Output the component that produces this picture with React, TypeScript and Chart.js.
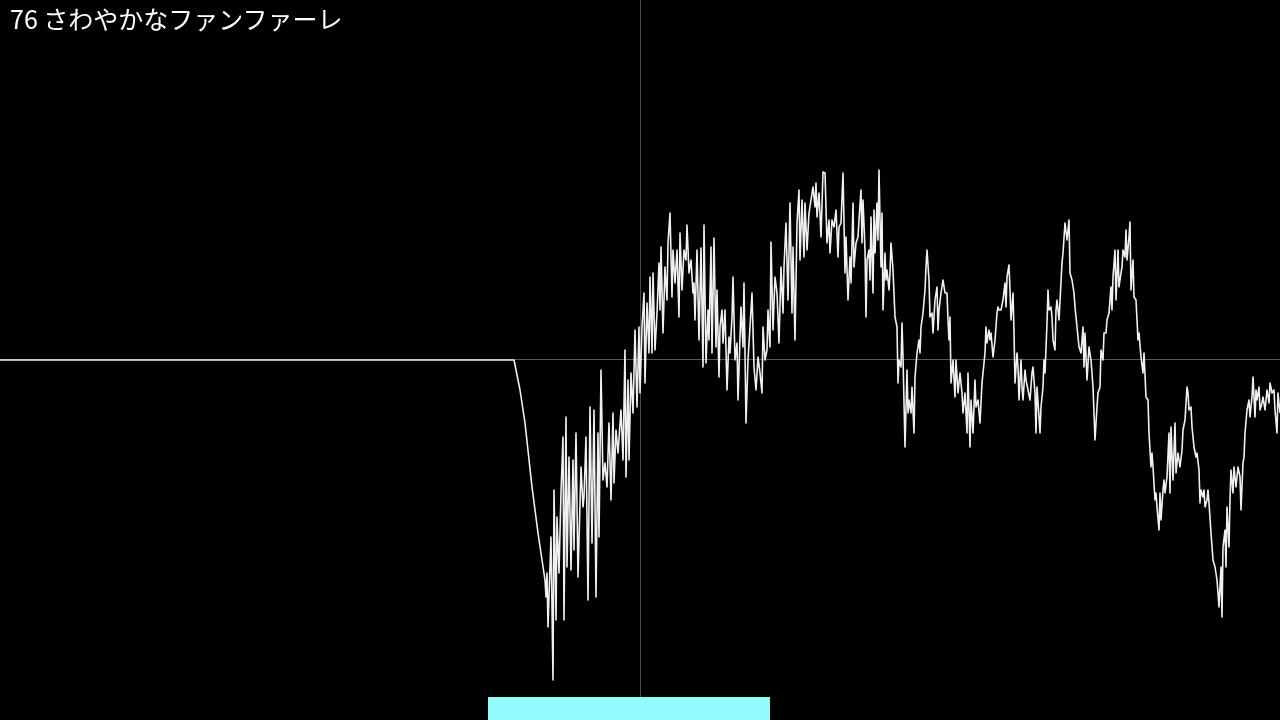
import React, { useEffect, useRef } from "react";
import { Chart, registerables } from "chart.js";

Chart.register(...registerables);

// ---- data (time in samples, level = signed amplitude, full scale ±360) ----
const titleText = "76 さわやかなファンファーレ";
const timeRange = [0, 1280];
const levelRange = [-360, 360];
const cursorTime = 640;
const windowStart = 488;
const windowEnd = 770;
const windowLevel = -337;

const onset: [number, number][] = [
  [0, 0], [514, 0], [520, -30], [525, -63], [532, -127], [538, -173], [545, -220], [546, -237], [547, -213], [548, -267],
  [551, -177], [553, -320], [554, -130], [556, -260], [557, -157], [559, -213], [561, -133], [563, -77], [564, -260], [566, -57],
  [567, -207], [569, -97], [571, -210], [573, -100], [574, -190], [576, -73], [578, -217], [581, -107], [583, -147], [584, -137],
  [586, -77], [588, -240], [590, -47], [592, -183], [594, -50], [596, -237], [598, -73], [599, -177], [601, -10], [603, -120],
  [605, -103], [607, -127], [609, -63], [611, -140], [613, -53], [614, -123], [616, -70], [618, -93],
];

const rise: [number, number][] = [
  [621, -50], [623, -100], [625, 10], [626, -117], [628, -20], [629, -100], [631, -13], [633, -53], [635, 30], [637, -47],
  [639, 33], [640, -33], [642, 33], [644, 67], [645, -23], [647, 57], [649, 7], [650, 83], [652, 7], [653, 87],
  [655, 10], [657, 47], [659, 97], [660, 50], [661, 113], [663, 27], [665, 93], [667, 60], [668, 117], [670, 147],
  [672, 63], [673, 110], [675, 77], [677, 110], [679, 43], [680, 127], [682, 70], [684, 110], [686, 100], [687, 135],
  [689, 87], [691, 100], [693, 67], [694, 77], [695, 40], [697, 110], [699, 20], [701, 112], [703, -7], [704, 135],
  [706, -3], [708, 50], [709, 20], [711, 113], [712, 7], [714, 122], [716, 13], [717, 70], [719, -17], [720, 33],
  [722, 50], [723, 17], [725, 50], [727, -30], [729, 23],
];

const crest: [number, number][] = [
  [730, 7], [732, 43], [733, 83], [735, 0], [737, 17], [738, -40], [741, 53], [743, 13], [744, 77], [746, -63],
  [748, 0], [750, 33], [752, 67], [754, -7], [756, -30], [758, 3], [760, -13], [762, -33], [763, 33], [765, 0],
  [767, 10], [768, 50], [770, 13], [771, 118], [773, 30], [775, 83], [777, 67], [779, 17], [781, 93], [783, 47],
  [784, 93], [786, 137], [788, 60], [790, 157], [792, 47], [793, 113], [795, 20], [797, 137], [799, 170], [800, 100],
  [802, 160], [804, 103], [805, 157], [807, 110], [809, 147], [811, 160], [813, 173], [815, 153], [816, 177], [817, 143],
  [819, 167], [821, 123], [823, 188], [825, 187], [827, 117], [829, 140], [830, 107], [832, 140], [834, 133], [836, 150],
  [838, 103], [839, 133],
];

const peak: [number, number][] = [
  [841, 137], [843, 187], [845, 87], [846, 123], [848, 60], [850, 103], [851, 77], [853, 157], [854, 93], [856, 117],
  [858, 123], [859, 140], [861, 170], [862, 117], [863, 160], [865, 110], [866, 43], [867, 100], [869, 110], [870, 80],
  [871, 143], [873, 67], [874, 150], [875, 107], [877, 157], [878, 120], [879, 190], [881, 93], [882, 147], [883, 50],
  [885, 107], [886, 80], [887, 90], [889, 70], [890, 87], [891, 117], [893, 90], [895, 43], [897, 33], [898, -23],
  [899, 0], [901, -7], [902, 37], [903, 3], [905, -87], [907, -10], [908, -53], [909, -40], [911, -53], [912, -27],
  [914, -73], [915, -17], [917, 7], [919, 20], [920, 7], [921, 33], [923, 47], [925, 70], [926, 93], [927, 110],
  [929, 80], [930, 43], [932, 47], [933, 27], [935, 60], [937, 73], [938, 30], [939, 50], [941, 67], [943, 80],
  [945, 67], [947, 67], [948, 40], [949, 20],
];

const ripple: [number, number][] = [
  [950, 43], [951, -23], [953, 0], [955, -37], [956, 0], [958, -33], [960, -13], [962, -33], [963, -53], [965, -33],
  [967, -73], [968, -13], [970, -87], [971, -40], [973, -73], [975, -20], [976, -47], [978, -40], [980, -63], [982, -23],
  [983, -13], [985, 7], [986, 33], [987, 17], [989, 30], [990, 20], [991, 27], [993, 3], [995, 20], [997, 47],
  [998, 53], [999, 50], [1001, 50], [1003, 60], [1005, 77], [1006, 53], [1007, 83], [1009, 95], [1010, 70], [1011, 40],
  [1013, 67], [1014, 27], [1015, -23], [1017, 7], [1018, -7], [1019, -40], [1021, 0], [1022, -27], [1023, -40], [1025, -10],
  [1026, -20], [1028, -30], [1030, -40], [1032, -13], [1033, -7], [1035, -33], [1036, -73], [1037, -27], [1039, -57], [1040, -73],
  [1041, -47], [1043, -27], [1044, 0], [1045, -13], [1047, 37], [1048, 70], [1049, 50], [1051, 53], [1052, 43], [1053, 20],
  [1055, 10], [1056, 50], [1057, 60], [1059, 40],
];

const swell: [number, number][] = [
  [1062, 97], [1063, 107], [1065, 137], [1067, 120], [1069, 140], [1070, 87], [1072, 80], [1074, 67], [1075, 53], [1077, 33],
  [1079, 13], [1081, 7], [1083, 33], [1084, -7], [1085, 27], [1087, -20], [1089, 13], [1091, 0], [1093, -27], [1095, -80],
  [1097, -47], [1098, -33], [1100, -27], [1101, 10], [1103, 0], [1104, 27], [1106, 27], [1107, 40], [1109, 47], [1111, 73],
  [1112, 50], [1113, 83], [1115, 110], [1116, 60], [1118, 110], [1119, 73], [1121, 87], [1122, 93], [1123, 110], [1125, 103],
  [1126, 130], [1127, 100], [1129, 123], [1130, 138], [1131, 70], [1133, 100], [1134, 63], [1136, 60], [1138, 20], [1139, 27],
  [1141, 3], [1143, -13], [1144, 7], [1146, -37], [1148, -40], [1149, -73], [1151, -107], [1152, -93], [1153, -107], [1155, -140],
  [1156, -133], [1157, -147], [1159, -170], [1160, -133], [1161, -160], [1163, -130], [1164, -120], [1165, -133], [1167, -117], [1169, -73],
];

const tail: [number, number][] = [
  [1170, -133], [1171, -67], [1173, -120], [1175, -63], [1176, -113], [1178, -93], [1180, -107], [1182, -90], [1183, -70], [1185, -60],
  [1187, -27], [1188, -33], [1189, -50], [1191, -47], [1192, -67], [1194, -87], [1196, -97], [1197, -93], [1199, -110], [1200, -143],
  [1201, -130], [1203, -137], [1204, -130], [1205, -147], [1207, -140], [1208, -130], [1209, -143], [1211, -173], [1213, -200], [1215, -207],
  [1217, -220], [1218, -233], [1219, -247], [1221, -207], [1222, -257], [1223, -187], [1225, -170], [1226, -207], [1227, -147], [1229, -187],
  [1230, -140], [1231, -110], [1233, -133], [1234, -107], [1236, -127], [1238, -107], [1240, -117], [1241, -150], [1243, -103], [1244, -97],
  [1245, -73], [1247, -50], [1249, -40], [1250, -57], [1252, -37], [1253, -17], [1255, -57], [1256, -30], [1257, -40], [1259, -27],
  [1260, -50], [1262, -43], [1263, -37], [1265, -50], [1267, -30], [1269, -43], [1270, -23], [1272, -33], [1274, -30], [1275, -50],
  [1277, -73], [1278, -33], [1280, -53],
];

const segments = [onset, rise, crest, peak, ripple, swell, tail];

const guidesPlugin = {
  id: "guides",
  beforeDatasetsDraw(chart: any) {
    const { ctx, chartArea, scales } = chart;
    const x = scales.x;
    const y = scales.y;
    ctx.save();
    ctx.lineWidth = 1;
    ctx.strokeStyle = "#4a4a4a";
    const px = Math.round(x.getPixelForValue(cursorTime)) + 0.5;
    ctx.beginPath();
    ctx.moveTo(px, chartArea.top);
    ctx.lineTo(px, chartArea.bottom);
    ctx.stroke();
    ctx.strokeStyle = "#575757";
    const py = Math.round(y.getPixelForValue(0)) - 0.5;
    ctx.beginPath();
    ctx.moveTo(x.getPixelForValue(timeRange[0]), py);
    ctx.lineTo(x.getPixelForValue(timeRange[1]), py);
    ctx.stroke();
    ctx.restore();
  },
  afterDatasetsDraw(chart: any) {
    const { ctx, chartArea, scales } = chart;
    const x = scales.x;
    const y = scales.y;
    const x0 = x.getPixelForValue(windowStart);
    const x1 = x.getPixelForValue(windowEnd);
    const y0 = y.getPixelForValue(windowLevel);
    ctx.save();
    ctx.fillStyle = "#93fbfb";
    ctx.fillRect(x0, y0, x1 - x0, chartArea.bottom - y0);
    ctx.restore();
  },
};

export default function App() {
  const canvasRef = useRef<HTMLCanvasElement | null>(null);

  useEffect(() => {
    document.body.style.margin = "0";
    document.body.style.background = "#000";
    const canvas = canvasRef.current;
    if (!canvas) return;
    const points = segments.flat().map(([t, v]) => ({ x: t, y: v }));
    const chart = new Chart(canvas, {
      type: "line",
      data: {
        datasets: [
          {
            data: points,
            borderColor: "#f0f0f0",
            borderWidth: 1.6,
            pointRadius: 0,
            tension: 0,
            fill: false,
            borderJoinStyle: "round",
          } as any,
        ],
      },
      options: {
        responsive: false,
        animation: false,
        events: [],
        layout: { padding: 0 },
        plugins: {
          legend: { display: false },
          tooltip: { enabled: false },
          title: { display: false },
        },
        scales: {
          x: { type: "linear", min: timeRange[0], max: timeRange[1], display: false },
          y: { type: "linear", min: levelRange[0], max: levelRange[1], display: false },
        },
      },
      plugins: [guidesPlugin],
    });
    return () => chart.destroy();
  }, []);

  return (
    <div
      style={{
        position: "fixed",
        left: 0,
        top: 0,
        width: 1280,
        height: 720,
        background: "#000",
        overflow: "hidden",
      }}
    >
      <canvas ref={canvasRef} width={1280} height={720} style={{ display: "block", width: 1280, height: 720 }} />
      <div
        style={{
          position: "absolute",
          left: 10,
          top: 6,
          color: "#ffffff",
          fontFamily: '"Noto Sans CJK JP", "Noto Sans", sans-serif',
          fontSize: 25,
          lineHeight: "25px",
          whiteSpace: "nowrap",
        }}
      >
        {titleText}
      </div>
    </div>
  );
}
